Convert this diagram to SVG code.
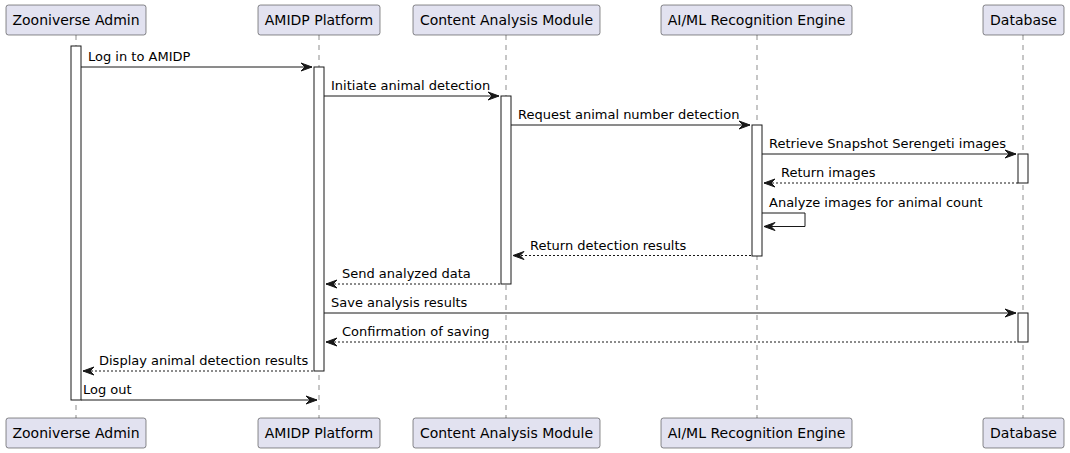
<svg xmlns="http://www.w3.org/2000/svg" width="1070" height="453" viewBox="0 0 1070 453">
<defs>
<style>
.box{fill:#E2E2F0;stroke:#181818;stroke-width:0.5}
.pt{font-family:"DejaVu Sans",sans-serif;font-size:14px;fill:#000;text-anchor:middle}
.life{stroke:#181818;stroke-width:0.5;stroke-dasharray:5,5;fill:none}
.act{fill:#FFFFFF;stroke:#181818;stroke-width:1}
.msg{stroke:#181818;stroke-width:1;fill:none}
.dash{stroke-dasharray:2,2}
.mt{font-family:"DejaVu Sans",sans-serif;font-size:13px;fill:#000}
.ah{fill:#181818;stroke:#181818;stroke-width:1}
</style>
</defs>
<rect width="1070" height="453" fill="#FFFFFF"/>
<g id="lifelines">
<line class="life" x1="76" y1="35" x2="76" y2="418"/>
<line class="life" x1="319" y1="35" x2="319" y2="418"/>
<line class="life" x1="506" y1="35" x2="506" y2="418"/>
<line class="life" x1="757" y1="35" x2="757" y2="418"/>
<line class="life" x1="1023" y1="35" x2="1023" y2="418"/>
</g>
<g id="admin">
<rect class="box" x="6" y="5" width="140" height="30" rx="2.5"/>
<text class="pt" x="76" y="25">Zooniverse Admin</text>
<rect class="box" x="6" y="418" width="140" height="30" rx="2.5"/>
<text class="pt" x="76" y="438">Zooniverse Admin</text>
<rect class="act" x="71" y="46" width="10" height="354"/>
</g>
<g id="platform">
<rect class="box" x="258" y="5" width="122" height="30" rx="2.5"/>
<text class="pt" x="319" y="25">AMIDP Platform</text>
<rect class="box" x="258" y="418" width="122" height="30" rx="2.5"/>
<text class="pt" x="319" y="438">AMIDP Platform</text>
<rect class="act" x="314" y="67" width="10" height="304"/>
</g>
<g id="content">
<rect class="box" x="413" y="5" width="187" height="30" rx="2.5"/>
<text class="pt" x="506.5" y="25">Content Analysis Module</text>
<rect class="box" x="413" y="418" width="187" height="30" rx="2.5"/>
<text class="pt" x="506.5" y="438">Content Analysis Module</text>
<rect class="act" x="501" y="96" width="10" height="188"/>
</g>
<g id="engine">
<rect class="box" x="661" y="5" width="191" height="30" rx="2.5"/>
<text class="pt" x="756.5" y="25">AI/ML Recognition Engine</text>
<rect class="box" x="661" y="418" width="191" height="30" rx="2.5"/>
<text class="pt" x="756.5" y="438">AI/ML Recognition Engine</text>
<rect class="act" x="752" y="125" width="10" height="131"/>
</g>
<g id="database">
<rect class="box" x="983" y="5" width="81" height="30" rx="2.5"/>
<text class="pt" x="1023.5" y="25">Database</text>
<rect class="box" x="983" y="418" width="81" height="30" rx="2.5"/>
<text class="pt" x="1023.5" y="438">Database</text>
<rect class="act" x="1018" y="154" width="10" height="29"/>
<rect class="act" x="1018" y="313" width="10" height="29"/>
</g>
<g id="connectors">
<line class="msg" x1="81" y1="67" x2="312" y2="67"/>
<polygon class="ah" points="301,63 312,67 301,71 305,67"/>
<text class="mt" x="88" y="61">Log in to AMIDP</text>

<line class="msg" x1="324" y1="96" x2="499" y2="96"/>
<polygon class="ah" points="488,92 499,96 488,100 492,96"/>
<text class="mt" x="331" y="90">Initiate animal detection</text>

<line class="msg" x1="511" y1="125" x2="750" y2="125"/>
<polygon class="ah" points="739,121 750,125 739,129 743,125"/>
<text class="mt" x="518" y="119">Request animal number detection</text>

<line class="msg" x1="762" y1="154" x2="1016" y2="154"/>
<polygon class="ah" points="1005,150 1016,154 1005,158 1009,154"/>
<text class="mt" x="769" y="148">Retrieve Snapshot Serengeti images</text>

<line class="msg dash" x1="764" y1="183" x2="1018" y2="183"/>
<polygon class="ah" points="775,179 764,183 775,187 771,183"/>
<text class="mt" x="781" y="177">Return images</text>

<polyline class="msg" points="762,213 805,213 805,226.5 764,226.5"/>
<polygon class="ah" points="775,222.5 764,226.5 775,230.5 771,226.5"/>
<text class="mt" x="769" y="207">Analyze images for animal count</text>

<line class="msg dash" x1="513" y1="255.5" x2="752" y2="255.5"/>
<polygon class="ah" points="524,251.5 513,255.5 524,259.5 520,255.5"/>
<text class="mt" x="530" y="249.5">Return detection results</text>

<line class="msg dash" x1="326" y1="284" x2="501" y2="284"/>
<polygon class="ah" points="337,280 326,284 337,288 333,284"/>
<text class="mt" x="342" y="278">Send analyzed data</text>

<line class="msg" x1="324" y1="313" x2="1016" y2="313"/>
<polygon class="ah" points="1005,309 1016,313 1005,317 1009,313"/>
<text class="mt" x="331" y="307">Save analysis results</text>

<line class="msg dash" x1="326" y1="342" x2="1018" y2="342"/>
<polygon class="ah" points="337,338 326,342 337,346 333,342"/>
<text class="mt" x="342" y="336">Confirmation of saving</text>

<line class="msg dash" x1="83" y1="371" x2="314" y2="371"/>
<polygon class="ah" points="94,367 83,371 94,375 90,371"/>
<text class="mt" x="99" y="365">Display animal detection results</text>

<line class="msg" x1="81" y1="400" x2="317" y2="400"/>
<polygon class="ah" points="306,396 317,400 306,404 310,400"/>
<text class="mt" x="83" y="394">Log out</text>
</g>
</svg>
